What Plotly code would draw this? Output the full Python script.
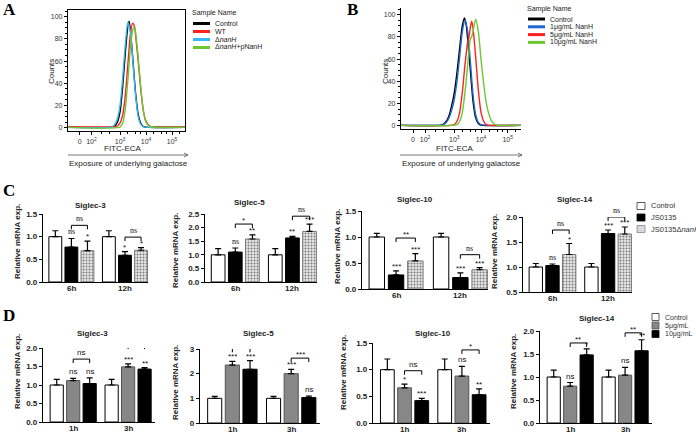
import plotly.graph_objects as go

W, H = 696, 433

# ------------------------------------------------------------------ DATA
# Panel A: flow cytometry histograms (x = decade position on FITC-ECA axis)
A_labels = ["Control", "WT", "Δ<i>nanH</i>", "Δ<i>nanH</i>+pNanH"]
A_ctrl_x = [1.0, 2.5, 2.8, 2.9, 3.0, 3.1, 3.2, 3.3, 3.35, 3.4, 3.5, 3.6, 3.7, 3.8, 3.9, 4.1, 5.5]
A_ctrl_y = [0.3, 0.3, 1.5, 5, 14, 36, 66, 91, 96, 88, 60, 31, 12, 4, 1, 0.3, 0.3]
A_wt_x = [1.0, 2.8, 2.9, 3.0, 3.1, 3.2, 3.3, 3.4, 3.48, 3.55, 3.6, 3.7, 3.8, 3.9, 4.0, 4.1, 4.2, 4.4, 5.5]
A_wt_y = [0.8, 0.8, 1.5, 4, 11, 28, 56, 84, 94, 92, 83, 60, 34, 15, 6, 2.5, 1, 0.8, 0.8]
A_dn_x = [1.0, 2.6, 2.7, 2.8, 2.9, 3.0, 3.1, 3.2, 3.3, 3.4, 3.5, 3.6, 3.7, 3.8, 3.9, 4.1, 5.5]
A_dn_y = [0.3, 0.3, 1, 3, 8, 20, 44, 74, 95, 86, 58, 29, 10, 3, 1, 0.3, 0.3]
A_cp_x = [1.0, 3.0, 3.1, 3.2, 3.3, 3.4, 3.5, 3.55, 3.6, 3.7, 3.8, 3.9, 4.0, 4.1, 4.2, 4.4, 5.5]
A_cp_y = [0.3, 0.5, 4, 16, 42, 72, 89, 91, 86, 63, 36, 15, 5, 2, 0.8, 0.3, 0.3]

# Panel B
B_labels = ["Control", "1μg/mL NanH", "5μg/mL NanH", "10μg/mL NanH"]
B_ctrl_x = [1.0, 2.5, 2.6, 2.7, 2.8, 2.9, 3.0, 3.1, 3.2, 3.3, 3.38, 3.45, 3.5, 3.6, 3.7, 3.8, 3.9, 4.0, 5.5]
B_ctrl_y = [0.3, 0.5, 1.5, 4, 9, 18, 30, 48, 70, 90, 97, 90, 78, 50, 22, 7, 2, 0.5, 0.3]
B_1_x = [1.0, 2.6, 2.7, 2.8, 2.9, 3.0, 3.1, 3.2, 3.3, 3.4, 3.5, 3.6, 3.7, 3.8, 3.9, 4.0, 5.5]
B_1_y = [0.3, 1, 3, 7, 14, 24, 40, 62, 85, 95, 85, 58, 28, 10, 3, 1, 0.3]
B_5_x = [1.0, 3.0, 3.1, 3.2, 3.3, 3.4, 3.5, 3.55, 3.6, 3.65, 3.7, 3.8, 3.9, 4.0, 4.1, 4.2, 5.5]
B_5_y = [0.3, 1, 4, 12, 30, 55, 75, 80, 88, 94, 88, 62, 32, 12, 4, 1, 0.3]
B_10_x = [1.0, 3.1, 3.2, 3.3, 3.4, 3.5, 3.6, 3.65, 3.7, 3.8, 3.9, 4.0, 4.1, 4.2, 4.3, 4.4, 4.5, 4.6, 5.5]
B_10_y = [0.3, 1, 4, 12, 30, 55, 78, 80, 85, 96, 85, 60, 38, 20, 10, 4, 1.5, 0.5, 0.3]

flow_ticks = ["0", "10<sup>2</sup>", "10<sup>3</sup>", "10<sup>4</sup>", "10<sup>5</sup>"]

# Panel C: qPCR (Control / JS0135 / JS0135ΔnanH)
C_groups = ["6h", "12h"]
C_series = ["Control", "JS0135", "JS0135Δ<i>nanH</i>"]
C_titles = ["Siglec-3", "Siglec-5", "Siglec-10", "Siglec-14"]
C_s3_ctrl, C_s3_ctrl_err = [1.0, 1.0], [0.13, 0.13]
C_s3_js, C_s3_js_err = [0.77, 0.59], [0.19, 0.08]
C_s3_dn, C_s3_dn_err = [0.69, 0.70], [0.21, 0.06]
C_s3_js_sig, C_s3_dn_sig = ["ns", "*"], ["*", "*"]
C_s3_br, C_s3_br_h = ["ns", "ns"], [1.25, 0.99]

C_s5_ctrl, C_s5_ctrl_err = [1.0, 1.0], [0.23, 0.23]
C_s5_js, C_s5_js_err = [1.10, 1.62], [0.15, 0.06]
C_s5_dn, C_s5_dn_err = [1.58, 1.86], [0.15, 0.27]
C_s5_js_sig, C_s5_dn_sig = ["ns", "**"], ["**", "***"]
C_s5_br, C_s5_br_h = ["*", "ns"], [2.13, 2.42]

C_s10_ctrl, C_s10_ctrl_err = [1.0, 1.0], [0.07, 0.07]
C_s10_js, C_s10_js_err = [0.27, 0.22], [0.08, 0.09]
C_s10_dn, C_s10_dn_err = [0.54, 0.37], [0.14, 0.04]
C_s10_js_sig, C_s10_dn_sig = ["***", "***"], ["***", "***"]
C_s10_br, C_s10_br_h = ["**", "ns"], [0.98, 0.66]

C_s14_ctrl, C_s14_ctrl_err = [1.0, 1.0], [0.07, 0.07]
C_s14_js, C_s14_js_err = [1.03, 1.67], [0.03, 0.07]
C_s14_dn, C_s14_dn_err = [1.25, 1.66], [0.22, 0.14]
C_s14_js_sig, C_s14_dn_sig = ["ns", "***"], ["*", "***"]
C_s14_br, C_s14_br_h = ["ns", "ns"], [1.74, 2.0]

# Panel D: qPCR (Control / 5μg/mL / 10μg/mL)
D_groups = ["1h", "3h"]
D_series = ["Control", "5μg/mL", "10μg/mL"]
D_titles = ["Siglec-3", "Siglec-5", "Siglec-10", "Siglec-14"]
D_s3_ctrl, D_s3_ctrl_err = [1.0, 1.0], [0.15, 0.15]
D_s3_g5, D_s3_g5_err = [1.12, 1.49], [0.06, 0.08]
D_s3_g10, D_s3_g10_err = [1.04, 1.43], [0.15, 0.04]
D_s3_g5_sig, D_s3_g10_sig = ["ns", "***"], ["ns", "**"]
D_s3_br, D_s3_br_h = ["ns", "ns"], [1.70, 2.08]

D_s5_ctrl, D_s5_ctrl_err = [1.0, 1.0], [0.08, 0.08]
D_s5_g5, D_s5_g5_err = [2.35, 2.0], [0.15, 0.17]
D_s5_g10, D_s5_g10_err = [2.18, 1.03], [0.35, 0.06]
D_s5_g5_sig, D_s5_g10_sig = ["***", "***"], ["***", "ns"]
D_s5_br, D_s5_br_h = ["ns", "***"], [3.03, 2.63]

D_s10_ctrl, D_s10_ctrl_err = [1.0, 1.0], [0.2, 0.2]
D_s10_g5, D_s10_g5_err = [0.66, 0.88], [0.07, 0.18]
D_s10_g10, D_s10_g10_err = [0.42, 0.53], [0.04, 0.11]
D_s10_g5_sig, D_s10_g10_sig = ["*", "ns"], ["***", "**"]
D_s10_br, D_s10_br_h = ["ns", "*"], [0.98, 1.37]

D_s14_ctrl, D_s14_ctrl_err = [1.0, 1.0], [0.15, 0.15]
D_s14_g5, D_s14_g5_err = [0.8, 1.04], [0.08, 0.17]
D_s14_g10, D_s14_g10_err = [1.48, 1.57], [0.13, 0.24]
D_s14_g5_sig, D_s14_g10_sig = ["ns", "ns"], ["*", "**"]
D_s14_br, D_s14_br_h = ["**", "**"], [1.74, 1.96]

# ------------------------------------------------------------------ HELPERS
SANS = "Liberation Sans, Arial, sans-serif"
SERIF = "Liberation Serif, Times New Roman, serif"
fig = go.Figure()
layout = dict(width=W, height=H, margin=dict(l=0, r=0, t=0, b=0, autoexpand=False),
              paper_bgcolor="white", plot_bgcolor="white", showlegend=False,
              barmode="overlay", template="none")
shapes, annos = [], []


def px_x(x):
    return x / W


def px_y(y):
    return 1 - y / H


def add_axes(i, x0, x1, y0, y1):
    return (dict(domain=[px_x(x0), px_x(x1)], automargin=False),
            dict(domain=[px_y(y1), px_y(y0)], automargin=False))


def text(x, y, s, size=8, bold=False, family=SANS, angle=0, color="#222",
         xanchor="center", yanchor="middle"):
    annos.append(dict(x=px_x(x), y=px_y(y), xref="paper", yref="paper", text=s,
                      showarrow=False, textangle=angle, xanchor=xanchor, yanchor=yanchor,
                      font=dict(size=size, family=family, color=color,
                                weight="bold" if bold else "normal")))


def line_shape(x0, y0, x1, y1, color, width, xref="paper", yref="paper"):
    shapes.append(dict(type="line", xref=xref, yref=yref, x0=x0, x1=x1, y0=y0, y1=y1,
                       opacity=1, line=dict(color=color, width=width)))


# ------------------------------------------------------------------ FLOW PANELS
def flow_panel(idx, box, curves, colors, labels, leg_pos, mirror):
    x0, x1, y0, y1 = box
    xa, ya = add_axes(idx, *box)
    xa.update(range=[1.0, 5.5], showline=True, linecolor="black", linewidth=1.3,
              mirror=mirror, ticks="outside", ticklen=3, tickcolor="black",
              tickmode="array", tickvals=[1.45, 1.9, 3, 4, 5], ticktext=flow_ticks,
              tickfont=dict(size=7, family=SANS, color="#333"), showgrid=False,
              zeroline=False, anchor="y%d" % idx,
              minor=dict(ticks="outside", ticklen=2, tickcolor="black", showgrid=False,
                         tickvals=[2.3, 2.6, 3.3, 3.6, 3.8, 4.3, 4.6, 4.8, 5.3]))
    ya.update(range=[-3, 106], showline=True, linecolor="black", linewidth=1.3,
              mirror=mirror, ticks="outside", ticklen=3, tickcolor="black",
              tickvals=[0, 20, 40, 60, 80, 100],
              tickfont=dict(size=7, family=SANS, color="#333"), showgrid=False,
              zeroline=False, anchor="x%d" % idx,
              minor=dict(ticks="outside", ticklen=2, tickcolor="black", dtick=5,
                         showgrid=False))
    layout["xaxis%d" % idx] = xa
    layout["yaxis%d" % idx] = ya
    for (cx, cy), col, lab in zip(curves, colors, labels):
        fig.add_trace(go.Scatter(x=cx, y=cy, mode="lines", name=lab,
                                 line=dict(color=col, width=1.4, shape="spline", smoothing=0.6),
                                 xaxis="x%d" % idx, yaxis="y%d" % idx))
    # legend
    lx, ly, dy = leg_pos
    text(lx - 3, ly - 10, "Sample Name", size=7, xanchor="left")
    for k, (col, lab) in enumerate(zip(colors, labels)):
        yy = ly + k * dy
        line_shape(px_x(lx), px_y(yy), px_x(lx + 17), px_y(yy), col, 3)
        text(lx + 20, yy, lab, size=7, xanchor="left")


flow_panel(1, (68, 185, 10, 131),
           [(A_ctrl_x, A_ctrl_y), (A_wt_x, A_wt_y), (A_dn_x, A_dn_y), (A_cp_x, A_cp_y)],
           ["#000000", "#ff2020", "#35b8ef", "#6cc832"], A_labels, (193, 23.5, 8), True)
flow_panel(2, (401, 521, 8, 129),
           [(B_ctrl_x, B_ctrl_y), (B_1_x, B_1_y), (B_5_x, B_5_y), (B_10_x, B_10_y)],
           ["#000000", "#1f66d0", "#ff2020", "#6cc832"], B_labels, (528, 19, 7.8), False)

for cx, ax0, ax1 in [(123, 68, 188), (455, 400, 522)]:
    text(cx, 148.5, "FITC-ECA", size=8)
    line_shape(px_x(ax0), px_y(155), px_x(ax1), px_y(155), "#555", 0.8)
    line_shape(px_x(ax1 - 4), px_y(153), px_x(ax1), px_y(155), "#555", 0.8)
    line_shape(px_x(ax1 - 4), px_y(157), px_x(ax1), px_y(155), "#555", 0.8)
    text(cx + 5 if cx < 300 else cx + 6, 163.5, "Exposure of underlying galactose", size=8)
text(51, 71, "Counts", size=8, angle=-90)
text(385, 71, "Counts", size=8, angle=-90)

# ------------------------------------------------------------------ BAR PANELS
OFF, BW = 0.30, 0.24
C_styles = [dict(color="white", line=dict(color="black", width=1)),
            dict(color="black", line=dict(color="black", width=1)),
            dict(color="#e4e4e4", line=dict(color="#777", width=1),
                 pattern=dict(shape=".", fgcolor="#7a7a7a", bgcolor="#e8e8e8",
                              size=3, solidity=0.35))]
D_styles = [dict(color="white", line=dict(color="black", width=1)),
            dict(color="#878787", line=dict(color="#555", width=1)),
            dict(color="black", line=dict(color="black", width=1))]


def bar_panel(idx, box, yr, ytv, yfmt, groups, series, styles, vals, errs, sigs,
              brs, br_h, title, title_pos, ylab_pos, xr, ns_family):
    x0, x1, y0, y1 = box
    xa, ya = add_axes(idx, *box)
    xa.update(range=xr, showline=True, linecolor="black", linewidth=1.3, ticks="",
              tickmode="array", tickvals=[], showticklabels=False, showgrid=False,
              zeroline=False, anchor="y%d" % idx, fixedrange=True)
    ya.update(range=yr, showline=True, linecolor="black", linewidth=1.3,
              ticks="outside", ticklen=3, tickcolor="black", tickvals=ytv,
              tickformat=yfmt, tickfont=dict(size=8, family=SANS, color="#222",
                                             weight="bold"),
              showgrid=False, zeroline=False, anchor="x%d" % idx)
    layout["xaxis%d" % idx] = xa
    layout["yaxis%d" % idx] = ya
    ppu = (y1 - y0) / (yr[1] - yr[0])
    offs = [-OFF, 0, OFF]
    for k in range(3):
        xs = [g + offs[k] for g in range(len(groups))]
        fig.add_trace(go.Bar(x=xs, y=vals[k], width=BW, name=series[k],
                             marker=styles[k], base=0,
                             error_y=dict(type="data", array=errs[k],
                                          arrayminus=[0] * len(groups), symmetric=False,
                                          color="black", thickness=1.2, width=3),
                             xaxis="x%d" % idx, yaxis="y%d" % idx))
        if sigs[k] is not None:
            for g, s in enumerate(sigs[k]):
                fam = ns_family if s == "ns" else SANS
                annos.append(dict(x=g + offs[k], y=vals[k][g] + errs[k][g],
                                  xref="x%d" % idx, yref="y%d" % idx, text=s,
                                  showarrow=False, yanchor="bottom",
                                  yshift=-2 if s != "ns" else 0,
                                  font=dict(size=8, family=fam, color="#111")))
    # category labels under the axis (group position mapped through the x range)
    for g, lab in enumerate(groups):
        gx = x0 + (g - xr[0]) / (xr[1] - xr[0]) * (x1 - x0)
        text(gx, y1 + 6, lab, size=8, bold=True)
    d = 4.0 / ppu
    for g, (s, h) in enumerate(zip(brs, br_h)):
        xa_, xb_ = g + offs[1], g + offs[2]
        shapes.append(dict(type="path", xref="x%d" % idx, yref="y%d" % idx,
                           path="M %f,%f L %f,%f L %f,%f L %f,%f" % (xa_, h - d, xa_, h, xb_, h, xb_, h - d),
                           fillcolor="rgba(0,0,0,0)", opacity=1,
                           line=dict(color="black", width=1)))
        fam = ns_family if s == "ns" else SANS
        annos.append(dict(x=(xa_ + xb_) / 2, y=h, xref="x%d" % idx, yref="y%d" % idx,
                          text=s, showarrow=False, yanchor="bottom",
                          yshift=0 if s == "ns" else -3,
                          font=dict(size=8, family=fam, color="#111")))
    text(title_pos[0], title_pos[1], title, size=8, bold=True)
    text(ylab_pos[0], ylab_pos[1], "Relative mRNA exp.", size=8, bold=True, angle=-90)


CXR = [-0.53, 1.43]
DXR = [-0.55, 1.49]
bar_panel(3, (43, 148, 214, 282), [0, 1.5], [0, 0.5, 1.0, 1.5], ".1f", C_groups, C_series,
          C_styles, [C_s3_ctrl, C_s3_js, C_s3_dn], [C_s3_ctrl_err, C_s3_js_err, C_s3_dn_err],
          [None, C_s3_js_sig, C_s3_dn_sig], C_s3_br, C_s3_br_h, C_titles[0], (90, 205),
          (17, 242), CXR, SERIF)
bar_panel(4, (205, 317, 214, 282), [0, 2.5], [0, 0.5, 1.0, 1.5, 2.0, 2.5], ".1f", C_groups,
          C_series, C_styles, [C_s5_ctrl, C_s5_js, C_s5_dn],
          [C_s5_ctrl_err, C_s5_js_err, C_s5_dn_err], [None, C_s5_js_sig, C_s5_dn_sig],
          C_s5_br, C_s5_br_h, C_titles[1], (250, 203), (175, 251), CXR, SERIF)
bar_panel(5, (362, 488, 211, 289), [0, 1.5], [0, 0.5, 1.0, 1.5], ".1f", C_groups, C_series,
          C_styles, [C_s10_ctrl, C_s10_js, C_s10_dn],
          [C_s10_ctrl_err, C_s10_js_err, C_s10_dn_err], [None, C_s10_js_sig, C_s10_dn_sig],
          C_s10_br, C_s10_br_h, C_titles[2], (415, 200), (338, 247), CXR, SERIF)
bar_panel(6, (523, 632, 217, 292), [0.5, 2.0], [0.5, 1.0, 1.5, 2.0], ".1f", C_groups,
          C_series, C_styles, [C_s14_ctrl, C_s14_js, C_s14_dn],
          [C_s14_ctrl_err, C_s14_js_err, C_s14_dn_err], [None, C_s14_js_sig, C_s14_dn_sig],
          C_s14_br, C_s14_br_h, C_titles[3], (575, 200), (494, 252), CXR, SERIF)

bar_panel(7, (43, 155, 348, 422), [0, 2.0], [0, 0.5, 1.0, 1.5, 2.0], ".1f", D_groups,
          D_series, D_styles, [D_s3_ctrl, D_s3_g5, D_s3_g10],
          [D_s3_ctrl_err, D_s3_g5_err, D_s3_g10_err], [None, D_s3_g5_sig, D_s3_g10_sig],
          D_s3_br, D_s3_br_h, D_titles[0], (92, 333), (17, 372), DXR, SANS)
bar_panel(8, (200, 320, 349, 423), [0, 3], [0, 1, 2, 3], "d", D_groups, D_series, D_styles,
          [D_s5_ctrl, D_s5_g5, D_s5_g10], [D_s5_ctrl_err, D_s5_g5_err, D_s5_g10_err],
          [None, D_s5_g5_sig, D_s5_g10_sig], D_s5_br, D_s5_br_h, D_titles[1], (258, 333),
          (175, 383), DXR, SANS)
bar_panel(9, (373, 490, 343, 423), [0, 1.5], [0, 0.5, 1.0, 1.5], ".1f", D_groups, D_series,
          D_styles, [D_s10_ctrl, D_s10_g5, D_s10_g10],
          [D_s10_ctrl_err, D_s10_g5_err, D_s10_g10_err], [None, D_s10_g5_sig, D_s10_g10_sig],
          D_s10_br, D_s10_br_h, D_titles[2], (433, 333), (343, 373), DXR, SANS)
bar_panel(10, (540, 652, 331, 423), [0, 2.0], [0, 0.5, 1.0, 1.5, 2.0], ".1f", D_groups,
          D_series, D_styles, [D_s14_ctrl, D_s14_g5, D_s14_g10],
          [D_s14_ctrl_err, D_s14_g5_err, D_s14_g10_err], [None, D_s14_g5_sig, D_s14_g10_sig],
          D_s14_br, D_s14_br_h, D_titles[3], (597, 318), (513, 372), DXR, SANS)

# ------------------------------------------------------------------ BAR LEGENDS
def box_legend(x, ys, labels, fills, lines, size, w):
    for yy, lab, fc, lc in zip(ys, labels, fills, lines):
        shapes.append(dict(type="rect", xref="paper", yref="paper", opacity=1,
                           x0=px_x(x), x1=px_x(x + w), y0=px_y(yy + 3.5), y1=px_y(yy - 3.5),
                           fillcolor=fc, line=dict(color=lc, width=0.8)))
        text(x + w + 4, yy, lab, size=size, xanchor="left", color="#333")


box_legend(637, [206, 217.5, 229], C_series, ["white", "black", "#d9d9d9"],
           ["#333", "black", "#888"], 7.5, 8)
box_legend(652, [317, 325.5, 334], D_series, ["white", "#878787", "black"],
           ["#333", "#555", "black"], 7, 7)

# ------------------------------------------------------------------ PANEL LETTERS
for lab, x, y in [("A", 9, 9), ("B", 352, 9), ("C", 9, 190), ("D", 9, 315)]:
    text(x, y, lab, size=17, bold=True, family=SERIF, color="black")

layout["shapes"] = shapes
layout["annotations"] = annos
fig.update_layout(**layout)
fig.write_html("out.html", config={"displayModeBar": False},
               post_script="document.body.style.margin='0px';document.body.style.padding='0px';")
